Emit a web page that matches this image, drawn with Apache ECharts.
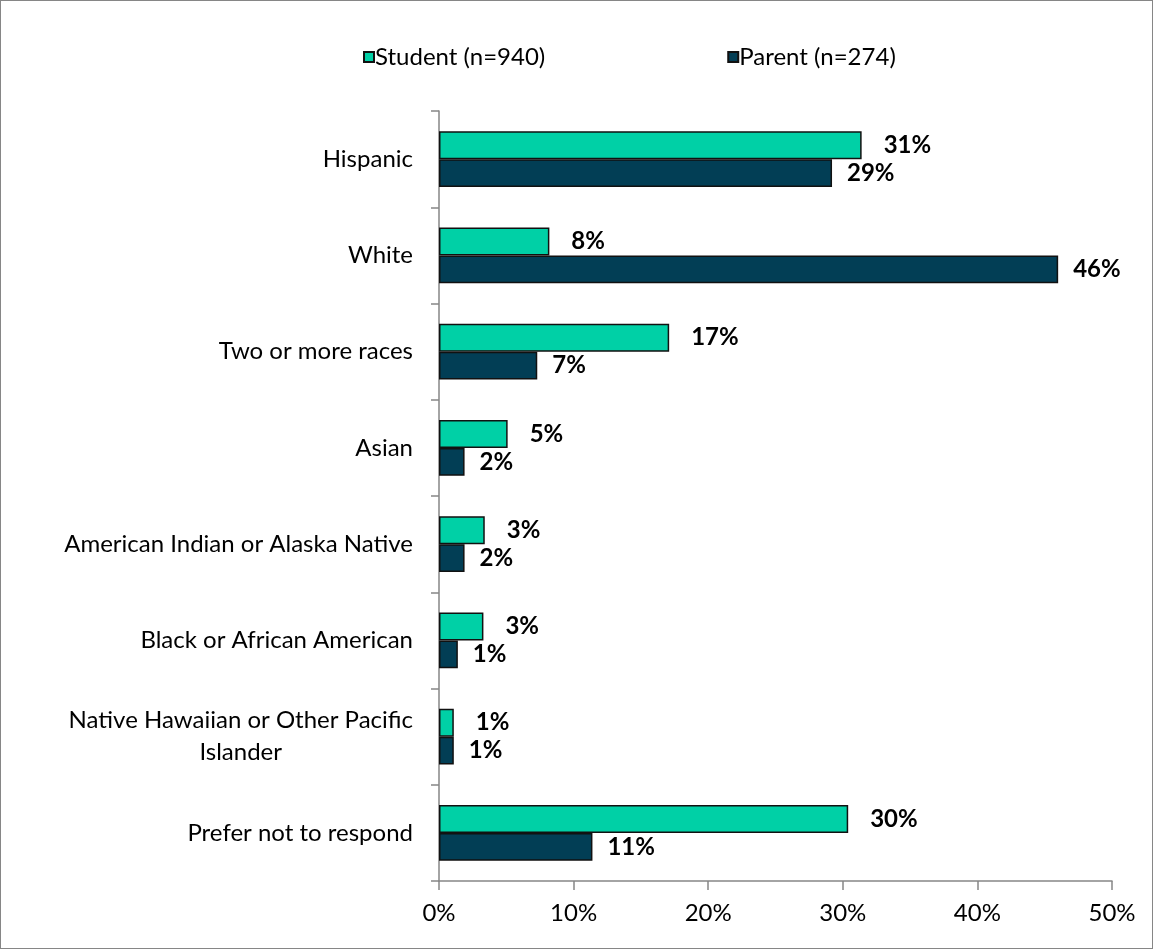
<!DOCTYPE html>
<html>
<head>
<meta charset="utf-8">
<script src="https://cdn.jsdelivr.net/npm/echarts@6/dist/echarts.min.js"></script>
<style>
html,body{margin:0;padding:0;background:#fff;}
#chart{width:1153px;height:949px;box-sizing:border-box;border:1px solid #868686;}
</style>
</head>
<body>
<div id="chart"></div>
<script>
const categories = ["Hispanic", "White", "Two or more races", "Asian", "American Indian or Alaska Native", "Black or African American", "Native Hawaiian or Other Pacific\nIslander", "Prefer not to respond"];
const seriesNames = ["Student (n=940)", "Parent (n=274)"];
const studentValues = [31.4, 8.2, 17.1, 5.1, 3.4, 3.3, 1.1, 30.4];
const parentValues = [29.2, 46.0, 7.3, 1.9, 1.9, 1.4, 1.1, 11.4];
const xTicks = [0, 10, 20, 30, 40, 50];

const FONT = 'Lato';
const FS = 24;
const ctx = document.createElement('canvas').getContext('2d');
ctx.font = FS + 'px ' + FONT;
// padding so the second line of a wrapped label sits centred under the first
const multi = categories.find(c => c.includes('\n'));
let padRight = 0;
if (multi) {
  const ps = multi.split('\n');
  padRight = Math.max(0, Math.round((ctx.measureText(ps[0]).width - ctx.measureText(ps[1]).width) / 2));
}

const chart = echarts.init(document.getElementById('chart'), null, {renderer: 'canvas'});
const labelFmt = p => Math.round(p.value) + '%';
chart.setOption({
  animation: false,
  textStyle: {fontFamily: FONT},
  legend: {
    top: 39, left: 357,
    itemWidth: 10, itemHeight: 10, itemGap: 182,
    icon: 'rect',
    textStyle: {fontSize: FS, color: '#000', fontFamily: FONT, padding: [0, 0, 0, -4]},
    data: seriesNames
  },
  grid: {left: 438, right: 40, top: 110, bottom: 67, containLabel: false},
  xAxis: {
    type: 'value', min: xTicks[0], max: xTicks[xTicks.length - 1], interval: 10,
    axisLine: {show: true, lineStyle: {color: '#868686', width: 1.5}},
    axisTick: {show: true, length: 9, lineStyle: {color: '#868686', width: 1.5}},
    splitLine: {show: false},
    axisLabel: {formatter: '{value}%', fontSize: FS, color: '#000', margin: 20, fontFamily: FONT}
  },
  yAxis: {
    type: 'category', data: categories, inverse: true,
    axisLine: {show: true, lineStyle: {color: '#868686', width: 1.5}},
    axisTick: {show: true, length: 8, lineStyle: {color: '#868686', width: 1.5}},
    axisLabel: {
      fontSize: FS, color: '#000', margin: 26, fontFamily: FONT, lineHeight: 32,
      formatter: v => {
        const parts = v.split('\n');
        if (parts.length > 1) return parts[0] + '\n{b|' + parts[1] + '}';
        return v;
      },
      rich: {b: {fontSize: FS, fontFamily: FONT, color: '#000', padding: [0, padRight, 0, 0], lineHeight: 32}}
    }
  },
  series: [
    {
      name: seriesNames[0], type: 'bar', data: studentValues,
      barCategoryGap: '42%', barGap: '0%',
      itemStyle: {color: '#00D0A6', borderColor: '#111', borderWidth: 1.5},
      label: {show: true, position: 'right', distance: 22, formatter: labelFmt,
        fontSize: FS, fontWeight: 'bold', color: '#000', fontFamily: FONT}
    },
    {
      name: seriesNames[1], type: 'bar', data: parentValues,
      barCategoryGap: '42%', barGap: '0%',
      itemStyle: {color: '#023E55', borderColor: '#111', borderWidth: 1.5},
      label: {show: true, position: 'right', distance: 15, formatter: labelFmt,
        fontSize: FS, fontWeight: 'bold', color: '#000', fontFamily: FONT}
    }
  ]
});
</script>
</body>
</html>
